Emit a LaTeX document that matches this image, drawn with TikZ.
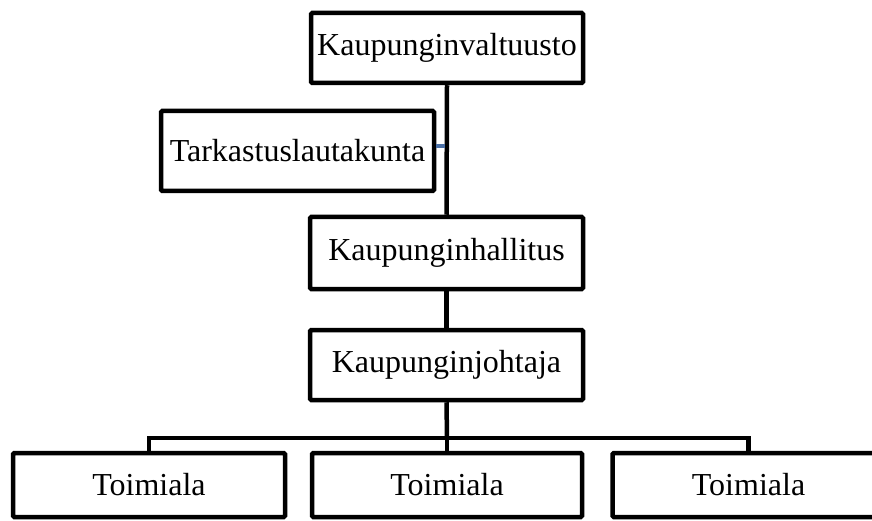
\documentclass[tikz,border=0pt]{standalone}
\usepackage{fontspec}
\setmainfont{Liberation Serif}
\begin{document}
\begin{tikzpicture}[x=1pt,y=-1pt,
  orgbox/.style={draw=black, line width=4.5pt, fill=white, rounded corners=1.2pt,
    inner sep=0pt, font=\fontsize{32}{36}\selectfont, text=black},
  link/.style={draw=black, line width=4.5pt},
  sidelink/.style={draw=sidecol, line width=4.5pt}]
\definecolor{sidecol}{HTML}{4A6FA5}
\useasboundingbox (0,0) rectangle (872,521);
\clip (0,0) rectangle (872,521);
\node[orgbox, minimum width=272pt, minimum height=70pt] (valt) at (447,48) {Kaupunginvaltuusto};
\node[orgbox, minimum width=273pt, minimum height=80pt] (tark) at (297.5,151) {Tarkastuslautakunta};
\node[orgbox, minimum width=273pt, minimum height=72pt] (hall) at (446.5,253) {Kaupunginhallitus};
\node[orgbox, minimum width=273pt, minimum height=70pt] (joht) at (446.5,365) {Kaupunginjohtaja};
\node[orgbox, minimum width=272pt, minimum height=64pt] (t1) at (149,485) {Toimiala};
\node[orgbox, minimum width=270pt, minimum height=64pt] (t2) at (447,485) {Toimiala};
\node[orgbox, minimum width=272pt, minimum height=64pt] (t3) at (748.5,485) {Toimiala};
\coordinate (bus) at (447,438);
\coordinate (tj) at (447,146);
\draw[link] (valt.south) -- (hall.north);
\draw[link] (hall.south) -- (joht.north);
\draw[link] (joht.south) -- (bus);
\draw[link] (bus) -- (t2.north);
\draw[link] (bus) -| (t1.north);
\draw[link] (bus) -| (t3.north);
\draw[sidelink] (tark.east |- tj) -- ([xshift=-2.25pt]tj);
\end{tikzpicture}
\end{document}
